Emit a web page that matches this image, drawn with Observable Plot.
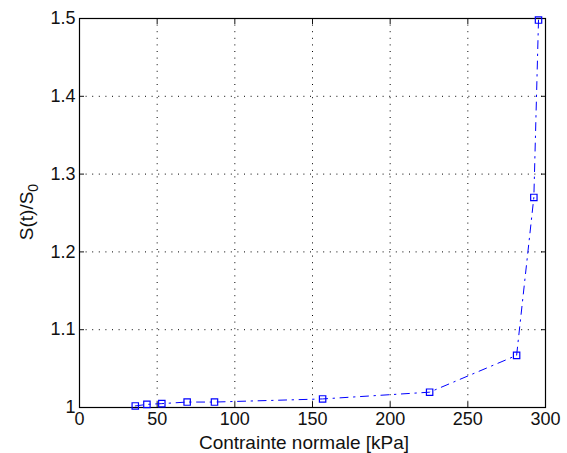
<!DOCTYPE html>
<html>
<head>
<meta charset="utf-8">
<script src="https://cdn.jsdelivr.net/npm/d3@7"></script>
<script src="https://cdn.jsdelivr.net/npm/@observablehq/plot@0.6"></script>
<style>
  html, body { margin: 0; padding: 0; background: #fff; }
  svg { font-family: "Liberation Sans", Arial, sans-serif; }
</style>
</head>
<body>
<div id="chart"></div>
<script>
const contrainte = [35.9, 43.4, 53, 69.3, 86.9, 156.5, 225.4, 281.4, 292.5, 295.5];
const ratio = [1.002, 1.004, 1.005, 1.007, 1.007, 1.011, 1.0197, 1.067, 1.27, 1.498];
const xTicks = [0, 50, 100, 150, 200, 250, 300];
const yTicks = [1, 1.1, 1.2, 1.3, 1.4, 1.5];
const xLabel = "Contrainte normale [kPa]";
const yLabelMain = "S(t)/S";
const yLabelSub = "0";

const data = contrainte.map((x, i) => ({x, y: ratio[i]}));
const blank = () => "";

const plot = Plot.plot({
  width: 567,
  height: 453,
  marginLeft: 79,
  marginRight: 22,
  marginTop: 18,
  marginBottom: 46,
  style: {fontFamily: "'Liberation Sans', Arial, sans-serif", fontSize: "18px", color: "#111", background: "white"},
  x: {domain: [0, 300]},
  y: {domain: [1, 1.5]},
  marks: [
    Plot.gridX(xTicks, {stroke: "black", strokeOpacity: 1, strokeDasharray: "1,5.6"}),
    Plot.gridY(yTicks, {stroke: "black", strokeOpacity: 1, strokeDasharray: "1,5.6"}),
    Plot.axisX(xTicks, {anchor: "bottom", tickSize: 0, tickPadding: 5, label: null, fontSize: 18}),
    Plot.axisY(yTicks, {anchor: "left", tickSize: 0, tickPadding: 4, label: null, fontSize: 18, tickFormat: d => String(+d.toFixed(1))}),
    Plot.axisX(xTicks, {anchor: "bottom", tickSize: -5, tickFormat: blank, label: null}),
    Plot.axisX(xTicks, {anchor: "top", tickSize: -5, tickFormat: blank, label: null}),
    Plot.axisY(yTicks, {anchor: "left", tickSize: -5, tickFormat: blank, label: null}),
    Plot.axisY(yTicks, {anchor: "right", tickSize: -5, tickFormat: blank, label: null}),
    Plot.frame({stroke: "black", strokeWidth: 1.2}),
    Plot.line(data, {x: "x", y: "y", stroke: "#0000ff", strokeWidth: 1, strokeDasharray: "8,5.5,1.5,5.5"}),
    Plot.dot(data, {x: "x", y: "y", symbol: "square", r: 3.6, stroke: "#0000ff", fill: "none", strokeWidth: 1.2})
  ]
});

document.getElementById("chart").appendChild(plot);

const svg = d3.select(plot);
// x axis label
svg.append("text")
  .attr("x", 304)
  .attr("y", 449)
  .attr("text-anchor", "middle")
  .attr("font-size", 19)
  .attr("fill", "#111")
  .text(xLabel);
// y axis label with subscript
const yl = svg.append("text")
  .attr("transform", "translate(33,212) rotate(-90)")
  .attr("text-anchor", "middle")
  .attr("font-size", 19)
  .attr("fill", "#111");
yl.append("tspan").text(yLabelMain);
yl.append("tspan").attr("dy", 5).attr("font-size", 14).text(yLabelSub);
</script>
</body>
</html>
